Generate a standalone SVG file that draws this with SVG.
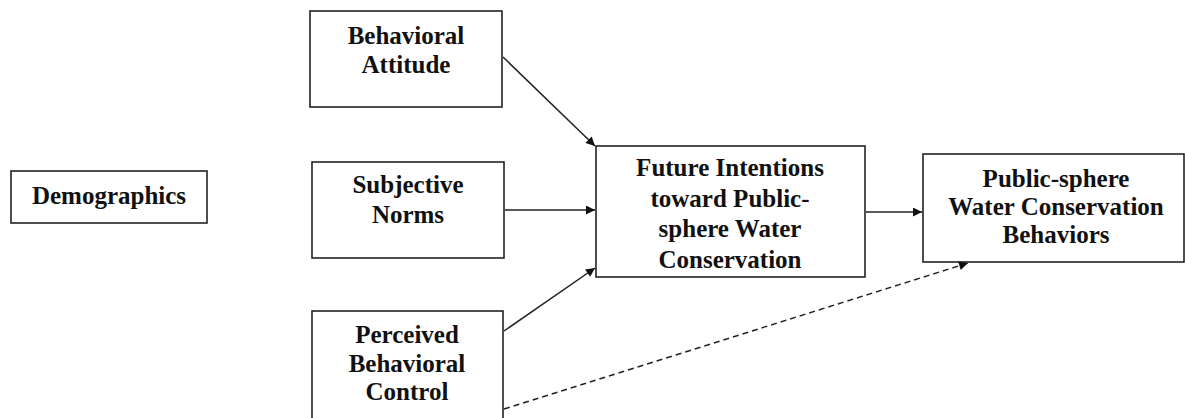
<svg xmlns="http://www.w3.org/2000/svg" width="1185" height="418" viewBox="0 0 1185 418">
<style>
  .box { fill: #ffffff; stroke: #222222; stroke-width: 1.6; }
  .lbl { font-family: "Liberation Serif", "Times New Roman", serif; font-weight: bold; font-size: 25px; fill: #111111; text-anchor: middle; }
  .edge { stroke: #222222; stroke-width: 1.5; fill: none; }
  .dash { stroke-dasharray: 6 4; }
</style>
<defs>
  <marker id="arrow" viewBox="0 0 10 10" refX="10" refY="5" markerWidth="11" markerHeight="9" markerUnits="userSpaceOnUse" orient="auto">
    <path d="M0,0 L10,5 L0,10 Z" fill="#111111"/>
  </marker>
</defs>
<rect width="1185" height="418" fill="#ffffff"/>

<g id="demographics">
  <rect class="box" x="11" y="171" width="196" height="52"/>
  <text class="lbl" x="109" y="204">Demographics</text>
</g>

<g id="behavioral-attitude">
  <rect class="box" x="310" y="11" width="192" height="96"/>
  <text class="lbl" x="406" y="44">Behavioral</text>
  <text class="lbl" x="406" y="73">Attitude</text>
</g>

<g id="subjective-norms">
  <rect class="box" x="312" y="162" width="192" height="96"/>
  <text class="lbl" x="408" y="193">Subjective</text>
  <text class="lbl" x="408" y="223">Norms</text>
</g>

<g id="perceived-behavioral-control">
  <rect class="box" x="312" y="311" width="191" height="120"/>
  <text class="lbl" x="407" y="343">Perceived</text>
  <text class="lbl" x="407" y="372">Behavioral</text>
  <text class="lbl" x="407" y="400">Control</text>
</g>

<g id="future-intentions">
  <rect class="box" x="596" y="146" width="269" height="131"/>
  <text class="lbl" x="730" y="176">Future Intentions</text>
  <text class="lbl" x="730" y="207">toward Public-</text>
  <text class="lbl" x="730" y="237">sphere Water</text>
  <text class="lbl" x="730" y="268">Conservation</text>
</g>

<g id="public-sphere-behaviors">
  <rect class="box" x="923" y="154" width="261" height="108"/>
  <text class="lbl" x="1056" y="187">Public-sphere</text>
  <text class="lbl" x="1056" y="215">Water Conservation</text>
  <text class="lbl" x="1056" y="243">Behaviors</text>
</g>

<g id="connectors">
  <line class="edge" x1="503" y1="57" x2="595" y2="146" marker-end="url(#arrow)"/>
  <line class="edge" x1="505" y1="210" x2="595" y2="210" marker-end="url(#arrow)"/>
  <line class="edge" x1="504" y1="331" x2="595" y2="268" marker-end="url(#arrow)"/>
  <line class="edge" x1="866" y1="212" x2="922" y2="212" marker-end="url(#arrow)"/>
  <line class="edge dash" x1="504" y1="409" x2="968" y2="263" marker-end="url(#arrow)"/>
</g>
</svg>
